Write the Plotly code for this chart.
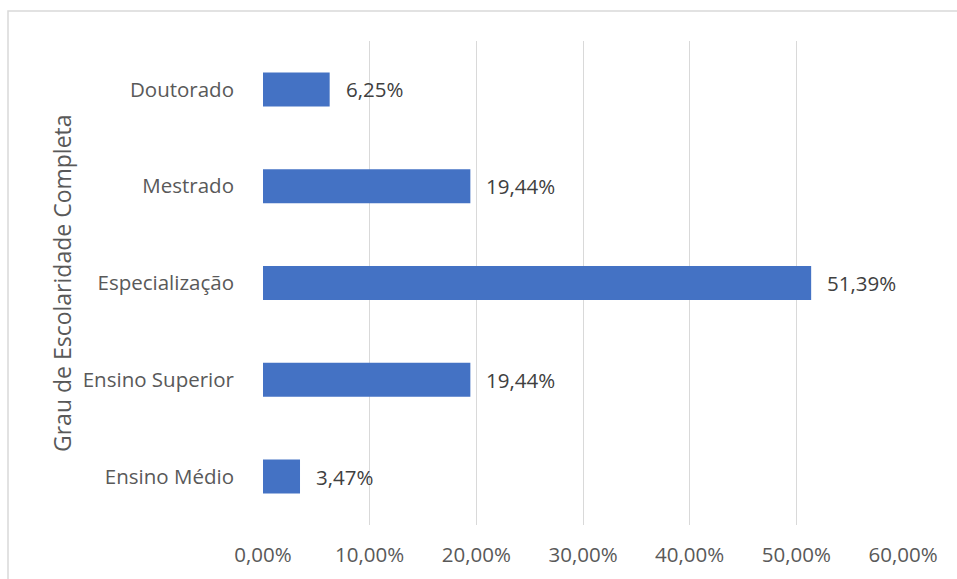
import plotly.graph_objects as go

# Share of respondents by highest completed education level
categorias = ["Ensino Médio", "Ensino Superior", "Especialização", "Mestrado", "Doutorado"]
percentuais = [3.47, 19.44, 51.39, 19.44, 6.25]
ticks_x = [0, 10, 20, 30, 40, 50, 60]

valores = [p / 100 for p in percentuais]
rotulos = [f"{p:.2f}%".replace(".", ",") for p in percentuais]

FONT = "Open Sans"
FS = 20.5
W, H = 957, 579
L, R, T, B = 263, 54, 41, 54
pw, ph = W - L - R, H - T - B

fig = go.Figure(
    go.Bar(
        x=valores,
        y=categorias,
        orientation="h",
        marker=dict(color="#4472C4", line=dict(width=0)),
        hoverinfo="skip",
    )
)

# value labels beside each bar
for v, c, t in zip(valores, categorias, rotulos):
    fig.add_annotation(
        x=v, y=c, text=t, showarrow=False, xanchor="left", xshift=14,
        font=dict(family=FONT, size=FS, color="#404040"),
    )

# vertical axis title
fig.add_annotation(
    xref="paper", yref="paper", x=(62 - L) / pw, y=0.5,
    text="Grau de Escolaridade Completa", textangle=-90, showarrow=False,
    xanchor="center", yanchor="middle",
    font=dict(family=FONT, size=23, color="#595959"),
)

# chart area border
fig.add_shape(
    type="rect", xref="paper", yref="paper",
    x0=(8 - L) / pw, x1=(W + 5 - L) / pw,
    y0=-(B + 5) / ph, y1=1 + (T - 11) / ph,
    line=dict(color="#D9D9D9", width=1.5), fillcolor="rgba(0,0,0,0)", layer="below",
)

fig.update_layout(
    width=W, height=H,
    margin=dict(l=L, r=R, t=T, b=B, pad=0),
    paper_bgcolor="white", plot_bgcolor="white",
    separators=",.",
    bargap=0.649,
    showlegend=False,
    font=dict(family=FONT, size=FS, color="#595959"),
    xaxis=dict(
        range=[0, 0.6], tickvals=[t / 100 for t in ticks_x], tickformat=".2%",
        showgrid=True, gridcolor="#D9D9D9", gridwidth=1.3,
        zeroline=False, showline=False, ticks="", ticklabelstandoff=15,
        tickfont=dict(family=FONT, size=FS, color="#595959"),
    ),
    yaxis=dict(
        categoryorder="array", categoryarray=categorias,
        showgrid=False, zeroline=False, showline=False, ticks="",
        ticklabelstandoff=28,
        tickfont=dict(family=FONT, size=FS, color="#595959"),
    ),
)

fig.write_html("out.html")
